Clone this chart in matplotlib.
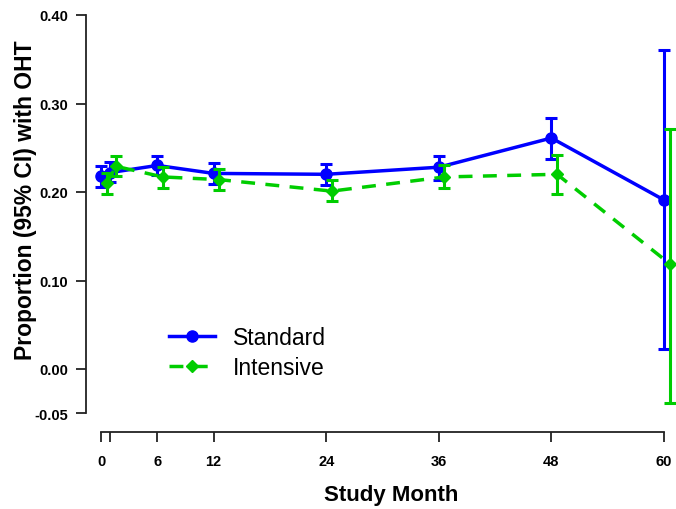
import matplotlib
matplotlib.use("Agg")
import matplotlib.pyplot as plt
import numpy as np

plt.rcParams["font.family"] = ["Liberation Sans", "DejaVu Sans"]

# study months and proportions
months = [0, 1, 6, 12, 24, 36, 48, 60]
tick_labels = ["0", "", "6", "12", "24", "36", "48", "60"]

std_mean = [0.218, 0.222, 0.230, 0.221, 0.220, 0.228, 0.261, 0.191]
std_lo = [0.206, 0.211, 0.219, 0.209, 0.208, 0.214, 0.237, 0.023]
std_hi = [0.229, 0.234, 0.241, 0.233, 0.232, 0.241, 0.284, 0.360]

int_mean = [0.210, 0.229, 0.217, 0.214, 0.201, 0.217, 0.220, 0.119]
int_lo = [0.198, 0.218, 0.205, 0.202, 0.190, 0.204, 0.198, -0.038]
int_hi = [0.222, 0.241, 0.228, 0.226, 0.213, 0.230, 0.242, 0.271]

y_ticks = [-0.05, 0.00, 0.10, 0.20, 0.30, 0.40]

BLUE = "#0000FF"
GREEN = "#00CD00"
W, H = 676, 510

fig = plt.figure(figsize=(W / 100, H / 100), dpi=100)
# axes box in pixels: left spine at x=86, bottom spine at y=433
left, right, top, bottom = 86, 676, 8, 433
ax = fig.add_axes([left / W, 1 - bottom / H, (right - left) / W, (bottom - top) / H])

px_month = (664 - 101) / 60.0
ax.set_xlim(-(101 - left) / px_month, 60 + (right - 664) / px_month)
y_top, y_zero = 16, 370  # pixel rows of 0.40 and 0.00
px_unit = (y_zero - y_top) / 0.40
ax.set_ylim(-(bottom - y_zero) / px_unit, 0.40 + (y_top - top) / px_unit)

x_std = np.array(months, dtype=float)
x_int = x_std + 0.6

ax.errorbar(x_std, std_mean,
            yerr=[np.array(std_mean) - std_lo, np.array(std_hi) - std_mean],
            color=BLUE, lw=2.5, marker="o", ms=8, capsize=4.5, capthick=2.2,
            elinewidth=2.2, label="Standard", zorder=3)
ax.errorbar(x_int, int_mean,
            yerr=[np.array(int_mean) - int_lo, np.array(int_hi) - int_mean],
            color=GREEN, lw=2.5, ls=(0, (4, 3)), marker="D", ms=6.5, capsize=4,
            capthick=2.2, elinewidth=2.2, label="Intensive", zorder=4)

for s in ["top", "right"]:
    ax.spines[s].set_visible(False)
ax.spines["left"].set_bounds(-0.05, 0.40)
ax.spines["bottom"].set_bounds(0, 60)
for s in ["left", "bottom"]:
    ax.spines[s].set_linewidth(1.3)
    ax.spines[s].set_color("#222222")

ax.set_xticks(months)
ax.set_xticklabels(tick_labels, fontweight="bold", fontsize=10.5)
ax.set_yticks(y_ticks)
ax.set_yticklabels([f"{v:.2f}" for v in y_ticks], fontweight="bold", fontsize=10.5)
ax.tick_params(direction="out", length=7, width=1.3, color="#222222", pad=6)
ax.tick_params(axis="x", pad=9)

ax.set_xlabel("Study Month", fontweight="bold", fontsize=16)
ax.xaxis.set_label_coords((391 - left) / (right - left), -(496 - bottom) / (bottom - top))
ax.xaxis.label.set_va("center")
ax.set_ylabel("Proportion (95% CI) with OHT", fontweight="bold", fontsize=16.5)
ax.yaxis.set_label_coords(-(left - 25) / (right - left), (bottom - 200) / (bottom - top))
ax.yaxis.label.set_va("center")

handles, labels = ax.get_legend_handles_labels()
handles = [h[0] for h in handles]
ax.legend(handles, labels, loc="upper left",
          bbox_to_anchor=((160 - left) / (right - left), (bottom - 318) / (bottom - top)),
          frameon=False, fontsize=16.5, handlelength=2.0, labelspacing=0.28,
          handletextpad=0.8, borderaxespad=0)

fig.savefig("out.png", dpi=100)
